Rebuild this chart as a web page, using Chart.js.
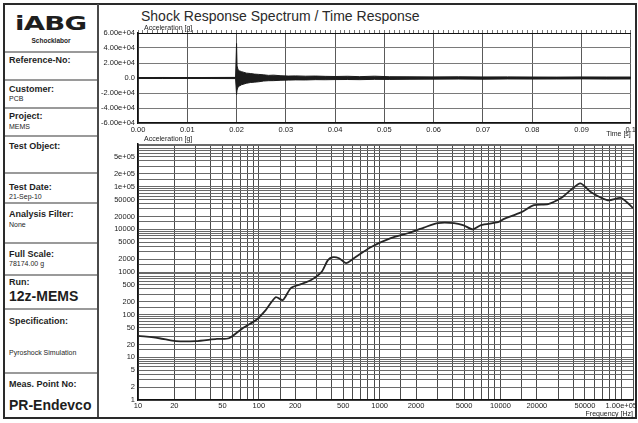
<!DOCTYPE html>
<html>
<head>
<meta charset="utf-8">
<script src="https://cdn.jsdelivr.net/npm/chart.js@4/dist/chart.umd.min.js"></script>
<style>
html,body{margin:0;padding:0;background:#fff;}
#sheet{position:relative;width:638px;height:423px;overflow:hidden;font-family:"Liberation Sans",Arial,sans-serif;color:#1e1e1e;}
.frame{position:absolute;left:3px;top:3px;width:630px;height:412px;border:2px solid #2a2a2a;}
.vdiv{position:absolute;left:97px;top:4px;width:2px;height:413px;background:#4a4a4a;}
.hl{position:absolute;left:5px;width:92px;height:2px;background:#9a9a9a;}
.lab{position:absolute;left:9px;font-weight:bold;font-size:9px;line-height:1;white-space:nowrap;}
.val{position:absolute;left:9px;font-size:7px;line-height:1;white-space:nowrap;}
.big{position:absolute;left:9px;font-weight:bold;font-size:14px;line-height:1;white-space:nowrap;}
.logo{position:absolute;left:15px;top:14px;font-family:"DejaVu Sans",sans-serif;font-weight:bold;font-size:19px;line-height:1;transform:scaleX(1.45);transform-origin:left top;letter-spacing:-0.5px;}
.logosub{position:absolute;left:5px;width:92px;top:38px;text-align:center;font-weight:bold;font-size:6.5px;line-height:1;}
.title{position:absolute;left:141px;top:9px;font-size:14px;line-height:1;white-space:nowrap;color:#2a2a2a;}
canvas{position:absolute;}
</style>
</head>
<body>
<div id="sheet">
  <div class="frame"></div>
  <div class="vdiv"></div>

  <div class="logo">iABG</div>
  <div class="logosub">Schocklabor</div>
  <div class="hl" style="top:51px"></div>
  <div class="lab" style="top:56px">Reference-No:</div>
  <div class="hl" style="top:79px"></div>
  <div class="lab" style="top:85px">Customer:</div>
  <div class="val" style="top:95px">PCB</div>
  <div class="hl" style="top:107px"></div>
  <div class="lab" style="top:112px">Project:</div>
  <div class="val" style="top:123px">MEMS</div>
  <div class="hl" style="top:135px"></div>
  <div class="lab" style="top:142px">Test Object:</div>
  <div class="hl" style="top:172px"></div>
  <div class="lab" style="top:183px">Test Date:</div>
  <div class="val" style="top:193px">21-Sep-10</div>
  <div class="hl" style="top:202px"></div>
  <div class="lab" style="top:210px">Analysis Filter:</div>
  <div class="val" style="top:221px">None</div>
  <div class="hl" style="top:242px"></div>
  <div class="lab" style="top:250px">Full Scale:</div>
  <div class="val" style="top:260px">78174.00 g</div>
  <div class="hl" style="top:274px"></div>
  <div class="lab" style="top:278px">Run:</div>
  <div class="big" style="top:289px">12z-MEMS</div>
  <div class="hl" style="top:308px"></div>
  <div class="lab" style="top:317px">Specification:</div>
  <div class="val" style="top:349px">Pyroshock Simulation</div>
  <div class="hl" style="top:372px"></div>
  <div class="lab" style="top:380px">Meas. Point No:</div>
  <div class="big" style="top:398px">PR-Endevco</div>

  <div class="title">Shock Response Spectrum / Time Response</div>

  <canvas id="timeChart" width="540" height="118" style="left:98px;top:22px;width:540px;height:118px"></canvas>
  <canvas id="srsChart" width="540" height="287" style="left:98px;top:133px;width:540px;height:287px"></canvas>
</div>

<script>
// Time response: per-interval peak (max / min) acceleration in g
const timeSec = [0.000, 0.005, 0.010, 0.015, 0.0198, 0.0200, 0.0201, 0.0203, 0.0206, 0.0210,
                 0.0215, 0.0220, 0.0228, 0.0236, 0.0245, 0.0255, 0.0265, 0.0275, 0.0290, 0.0305,
                 0.0320, 0.0340, 0.0360, 0.0380, 0.0400, 0.0425, 0.0450, 0.0480, 0.0510, 0.0550,
                 0.0600, 0.0650, 0.0700, 0.0750, 0.0800, 0.0850, 0.0900, 0.0950, 0.1000];
const accelPeakPos = [600, 700, 600, 700, 800, 46000, 16000, 11000, 9500, 8500,
                      7500, 6500, 6000, 5200, 4800, 4200, 3500, 3800, 3000, 2600,
                      2800, 2400, 2600, 2200, 2000, 2300, 1800, 2400, 1700, 1600,
                      1500, 1600, 1400, 1500, 1300, 1200, 1400, 1300, 1300];
const accelPeakNeg = [-600, -700, -600, -700, -800, -22000, -16000, -12000, -10500, -9000,
                      -8000, -7000, -6000, -5500, -5000, -4000, -3600, -3500, -3000, -2800,
                      -2500, -2600, -2200, -2300, -2100, -2000, -2200, -1800, -1900, -1700,
                      -1500, -1400, -1600, -1300, -1400, -1300, -1200, -1400, -1300];

// Shock response spectrum
const srsFreqHz = [10, 15, 20.6, 30, 45, 56.6, 74, 95, 114, 138,
                   158, 184, 223, 271, 330, 373, 411, 461, 527, 612,
                   843, 1236, 1714, 2323, 3040, 4120, 4900, 5920, 6900, 9540,
                   10600, 14900, 18900, 24800, 31700, 38000, 45900, 56300, 77600, 100000, 125000];
const srsAccelG = [32, 28, 24, 24, 27, 28, 49, 75, 128, 257,
                   220, 420, 520, 650, 1000, 1900, 2230, 2100, 1620, 2100,
                   3800, 6200, 8100, 11000, 14000, 14000, 12600, 10000, 12600, 14700,
                   17300, 25300, 37000, 39000, 54000, 83000, 120000, 74000, 48000, 54000, 31600];

// Tick settings
const timeTicks = {min: 0, max: 0.1, step: 0.01, minorStep: 0.001};
const timeAccelTicks = {min: -60000, max: 60000, step: 20000};
const freqRange = {min: 10, max: 125000};
const srsAccelRange = {min: 1, max: 1e6};
const labelledMantissas = [1, 2, 5];

const FONT = '"Liberation Sans", Arial, sans-serif';
const tickFont = {family: FONT, size: 7.5};
const INK = '#1c1c1c';

function expLabel(v, digits) {
  return v.toExponential(digits).replace(/e([+-])(\d)$/, 'e$10$2');
}
function mantissa(v) {
  const m = v / Math.pow(10, Math.floor(Math.log10(v) + 1e-9));
  return Math.round(m * 1000) / 1000;
}
function isLabelled(v) {
  return labelledMantissas.includes(mantissa(v));
}

// Small axis caption drawn at the top-left corner of the plot area
const cornerLabel = {
  id: 'cornerLabel',
  afterDraw(chart, args, opts) {
    const {ctx, chartArea} = chart;
    ctx.save();
    ctx.font = '7px ' + FONT;
    ctx.fillStyle = INK;
    ctx.textBaseline = 'bottom';
    ctx.fillText(opts.text, chartArea.left + 6, chartArea.top - (opts.lift || 1));
    ctx.restore();
  }
};

new Chart(document.getElementById('timeChart'), {
  type: 'line',
  data: {
    datasets: [
      {data: timeSec.map((t, i) => ({x: t, y: accelPeakPos[i]})), borderColor: INK, borderWidth: 1,
       pointRadius: 0, fill: false, tension: 0},
      {data: timeSec.map((t, i) => ({x: t, y: accelPeakNeg[i]})), borderColor: INK, borderWidth: 1,
       pointRadius: 0, fill: '-1', backgroundColor: INK, tension: 0}
    ]
  },
  options: {
    responsive: false, animation: false, events: [],
    layout: {padding: {top: 8, right: 5, bottom: 2, left: 0}},
    plugins: {legend: {display: false}, tooltip: {enabled: false}, cornerLabel: {text: 'Acceleration [g]', lift: 1}},
    scales: {
      x: {
        type: 'linear', position: 'bottom', min: timeTicks.min, max: timeTicks.max,
        ticks: {stepSize: timeTicks.step, autoSkip: false, maxRotation: 0, padding: 2, font: tickFont, color: INK,
                callback: v => { const n = Math.round(v * 100); return n === 10 ? '0.1' : (n / 100).toFixed(2); }},
        grid: {color: '#5a5a5a', drawTicks: false},
        border: {color: '#111', width: 1.5},
        title: {display: true, text: 'Time [s]', align: 'end', padding: 0, color: INK, font: {family: FONT, size: 7}},
        afterFit: s => { s.height = 15; }
      },
      xTop: {
        type: 'linear', position: 'top', min: timeTicks.min, max: timeTicks.max,
        ticks: {display: false, stepSize: timeTicks.minorStep, autoSkip: false},
        grid: {drawOnChartArea: false, tickLength: 3, color: '#777'},
        border: {color: '#111', width: 1},
        afterFit: s => { s.height = 3; }
      },
      y: {
        min: timeAccelTicks.min, max: timeAccelTicks.max,
        ticks: {stepSize: timeAccelTicks.step, padding: 3, font: tickFont, color: INK, autoSkip: false,
                callback: v => v === 0 ? '0.0' : expLabel(v, 2)},
        grid: {drawTicks: false,
               color: c => (c.tick && c.tick.value === 0) ? '#111' : '#7a7a7a',
               lineWidth: c => (c.tick && c.tick.value === 0) ? 1.5 : 1},
        border: {color: '#111', width: 1.5},
        afterFit: s => { s.width = 40; }
      }
    }
  },
  plugins: [cornerLabel]
});

new Chart(document.getElementById('srsChart'), {
  type: 'line',
  data: {
    datasets: [{
      data: srsFreqHz.map((f, i) => ({x: f, y: srsAccelG[i]})),
      borderColor: '#262626', borderWidth: 1.8, pointRadius: 0, fill: false, tension: 0.25
    }]
  },
  options: {
    responsive: false, animation: false, events: [],
    layout: {padding: {top: 11, right: 5, bottom: 2, left: 0}},
    plugins: {legend: {display: false}, tooltip: {enabled: false}, cornerLabel: {text: 'Acceleration [g]', lift: 1}},
    scales: {
      x: {
        type: 'logarithmic', min: freqRange.min, max: freqRange.max,
        ticks: {autoSkip: false, maxRotation: 0, padding: 1, font: tickFont, color: INK,
                callback: v => (v > freqRange.max - 1 || !isLabelled(v)) ? '' : (v >= 1e5 ? expLabel(v, 2) : String(v))},
        grid: {color: '#4a4a4a', drawTicks: false},
        border: {color: '#111', width: 1.5},
        title: {display: true, text: 'Frequency [Hz]', align: 'end', padding: 0, color: INK, font: {family: FONT, size: 7}},
        afterFit: s => { s.height = 18; }
      },
      y: {
        type: 'logarithmic', min: srsAccelRange.min, max: srsAccelRange.max,
        ticks: {autoSkip: false, padding: 3, font: tickFont, color: INK,
                callback: v => (v >= srsAccelRange.max || !isLabelled(v)) ? '' : (v >= 1e5 ? expLabel(v, 0) : String(v))},
        grid: {color: '#6a6a6a', drawTicks: false},
        border: {color: '#111', width: 1.5},
        afterFit: s => { s.width = 40; }
      }
    }
  },
  plugins: [cornerLabel]
});
</script>
</body>
</html>
